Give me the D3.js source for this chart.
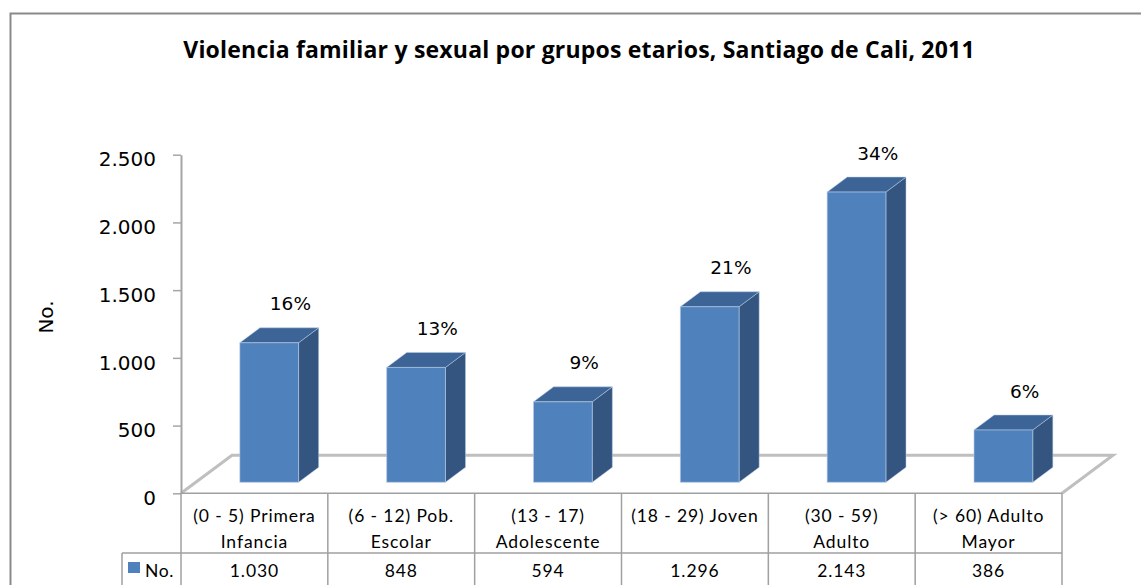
<!DOCTYPE html>
<html>
<head>
<meta charset="utf-8">
<script src="https://cdn.jsdelivr.net/npm/d3@7"></script>
<style>
  body { margin: 0; background: #fff; }
  svg { display: block; }
</style>
</head>
<body>
<svg id="chart" width="1141" height="585"></svg>
<script>
const title = "Violencia familiar y sexual por grupos etarios, Santiago de Cali, 2011";
const categories = [
    ["(0 - 5) Primera", "Infancia"],
    ["(6 - 12) Pob.", "Escolar"],
    ["(13 - 17)", "Adolescente"],
    ["(18 - 29) Joven", ""],
    ["(30 - 59)", "Adulto"],
    ["(> 60) Adulto", "Mayor"]
];
const values = [1030, 848, 594, 1296, 2143, 386];
const pctLabels = ["16%", "13%", "9%", "21%", "34%", "6%"];
const yTicks = [0, 500, 1000, 1500, 2000, 2500];
const seriesName = "No.";

const svg = d3.select('#chart');

const plot = { left: 181, right: 1062, top: 154.7, bottom: 493.3 };
const depth = { dx: 51, dy: -38 };   // profundidad del piso 3D
const f0 = 0.29, f1 = 0.684;         // posicion de la barra en la profundidad

const colors = { front: '#4f81bd', top: '#3d6496', side: '#34557f', edge: '#b8cce6' };
const gridColor = '#bfbfbf';
const tableColor = '#a0a0a0';

const locale = d3.formatLocale({ decimal: ",", thousands: ".", grouping: [3], currency: ["$", ""] });
const fmt = locale.format(",d");

const x = d3.scaleBand()
    .domain(d3.range(categories.length))
    .range([plot.left, plot.right])
    .padding(0);

const y = d3.scaleLinear()
    .domain([0, 2500])
    .range([plot.bottom, plot.top]);

// marco exterior
svg.append('rect')
    .attr('x', 10.5).attr('y', 13.5)
    .attr('width', 1200).attr('height', 700)
    .attr('fill', 'none')
    .attr('stroke', '#8a8a8a')
    .attr('stroke-width', 2);

// titulo
svg.append('text')
    .attr('x', 579)
    .attr('y', 58)
    .attr('text-anchor', 'middle')
    .attr('font-family', '"Open Sans", sans-serif')
    .attr('font-weight', 'bold')
    .attr('font-size', '23px')
    .attr('letter-spacing', '0.2px')
    .attr('fill', '#000')
    .text(title);

// piso
const y0 = y(0);
svg.append('path')
    .attr('d', `M${plot.left},${y0} L${plot.left + depth.dx},${y0 + depth.dy} L${plot.right + depth.dx},${y0 + depth.dy} L${plot.right},${y0}`)
    .attr('fill', 'none')
    .attr('stroke', gridColor)
    .attr('stroke-width', 3);

// barras
const bw = x.bandwidth() / 2.5;
const ddx = depth.dx * (f1 - f0), ddy = depth.dy * (f1 - f0);
const bars = svg.append('g')
    .selectAll('g')
    .data(values)
    .enter().append('g');

const geom = (d, i) => {
    const cx = x(i) + x.bandwidth() / 2;
    const x0 = cx - bw / 2 + depth.dx * f0;
    const x1 = x0 + bw;
    const yb = y(0) + depth.dy * f0;
    const yt = y(d) + depth.dy * f0;
    return { x0, x1, yb, yt };
};

bars.append('path')
    .attr('d', (d, i) => {
        const g = geom(d, i);
        return `M${g.x1},${g.yt} L${g.x1 + ddx},${g.yt + ddy} L${g.x1 + ddx},${g.yb + ddy} L${g.x1},${g.yb} Z`;
    })
    .attr('fill', colors.side)
    .attr('stroke', colors.edge).attr('stroke-opacity', 0.5).attr('stroke-width', 1);

bars.append('path')
    .attr('d', (d, i) => {
        const g = geom(d, i);
        return `M${g.x0},${g.yt} L${g.x0 + ddx},${g.yt + ddy} L${g.x1 + ddx},${g.yt + ddy} L${g.x1},${g.yt} Z`;
    })
    .attr('fill', colors.top)
    .attr('stroke', colors.edge).attr('stroke-opacity', 0.5).attr('stroke-width', 1);

bars.append('rect')
    .attr('x', (d, i) => geom(d, i).x0)
    .attr('y', (d, i) => geom(d, i).yt)
    .attr('width', bw)
    .attr('height', (d, i) => geom(d, i).yb - geom(d, i).yt)
    .attr('fill', colors.front)
    .attr('stroke', colors.edge).attr('stroke-opacity', 0.6).attr('stroke-width', 1);

// etiquetas de porcentaje
bars.append('text')
    .attr('x', (d, i) => x(i) + x.bandwidth() / 2 + 36)
    .attr('y', (d, i) => geom(d, i).yt - 39)
    .attr('dy', '0.36em')
    .attr('text-anchor', 'middle')
    .attr('font-family', 'DejaVu Sans, sans-serif')
    .attr('font-size', '18.5px')
    .attr('fill', '#000')
    .text((d, i) => pctLabels[i]);

// eje Y
const yAxis = svg.append('g')
    .attr('transform', `translate(${plot.left},0)`)
    .call(d3.axisLeft(y).tickValues(yTicks).tickFormat(fmt).tickSize(8).tickSizeOuter(0).tickPadding(17));

yAxis.select('.domain').attr('stroke', '#a6a6a6').attr('stroke-width', 2);
yAxis.selectAll('.tick line').attr('stroke', '#a6a6a6').attr('stroke-width', 1.5);
yAxis.selectAll('.tick text')
    .attr('dy', '0.56em')
    .attr('font-family', 'DejaVu Sans, sans-serif')
    .attr('font-size', '20px')
    .attr('fill', '#000');

svg.append('text')
    .attr('transform', 'translate(46,317) rotate(-90)')
    .attr('text-anchor', 'middle')
    .attr('dy', '0.36em')
    .attr('font-family', 'DejaVu Sans, sans-serif')
    .attr('font-size', '20px')
    .attr('fill', '#000')
    .text(seriesName);

// tabla de datos
const rowTop = plot.bottom, rowMid = 553, rowBot = 610, legendLeft = 122;
const table = svg.append('g')
    .attr('stroke', tableColor)
    .attr('stroke-width', 1.5);

table.append('line')
    .attr('x1', plot.left).attr('x2', plot.right)
    .attr('y1', rowTop).attr('y2', rowTop);
table.append('line')
    .attr('x1', legendLeft).attr('x2', plot.right)
    .attr('y1', rowMid).attr('y2', rowMid);
table.append('line')
    .attr('x1', legendLeft).attr('x2', legendLeft)
    .attr('y1', rowMid).attr('y2', rowBot);
table.selectAll('.col')
    .data(d3.range(categories.length + 1))
    .enter().append('line')
    .attr('x1', i => i < categories.length ? x(i) : plot.right)
    .attr('x2', i => i < categories.length ? x(i) : plot.right)
    .attr('y1', rowTop).attr('y2', rowBot);

const cellText = svg.append('g')
    .attr('font-family', 'Lato, sans-serif')
    .attr('font-size', '17.5px')
    .attr('letter-spacing', '0.9px')
    .attr('fill', '#000')
    .attr('text-anchor', 'middle');

categories.forEach((c, i) => {
    const cx = x(i) + x.bandwidth() / 2;
    cellText.append('text').attr('x', cx).attr('y', 522).text(c[0]);
    if (c[1]) cellText.append('text').attr('x', cx).attr('y', 548).text(c[1]);
    cellText.append('text').attr('x', cx).attr('y', 577).text(fmt(values[i]));
});

svg.append('rect')
    .attr('x', 128).attr('y', 562)
    .attr('width', 12).attr('height', 11)
    .attr('fill', colors.front);
svg.append('text')
    .attr('x', 145).attr('y', 577)
    .attr('font-family', 'Lato, sans-serif')
    .attr('font-size', '17.5px')
    .attr('letter-spacing', '0.6px')
    .attr('fill', '#000')
    .text(seriesName);
</script>
</body>
</html>
